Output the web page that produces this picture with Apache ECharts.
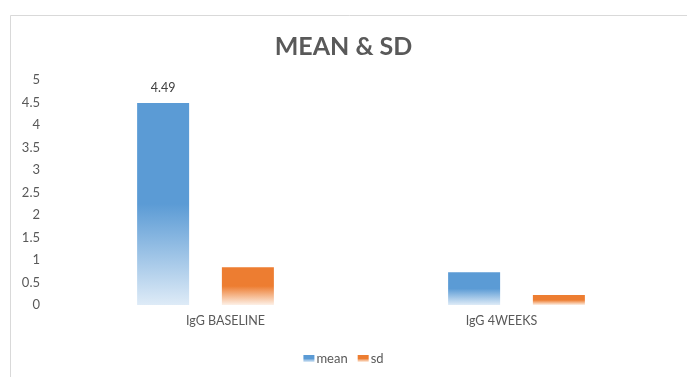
<!DOCTYPE html>
<html style="height: 100%">
<head>
    <meta charset="utf-8">
    <script src="https://cdn.jsdelivr.net/npm/echarts@6/dist/echarts.min.js"></script>
    <title>MEAN & SD</title>
</head>
<body style="height: 100%; margin: 0; background: #fff">
<div id="container" style="width: 687px; height: 377px"></div>

<script type="text/javascript">
    // data
    var categories = ['IgG BASELINE', 'IgG 4WEEKS'];
    var meanValues = [4.49, 0.73];
    var sdValues = [0.84, 0.22];
    var yTicks = [0, 5, 0.5];   // min, max, step

    // excel put the category labels a little off the bar centres
    var labelPad = [[0, 0, 0, 40], [0, 30, 0, 0]];

    var dom = document.getElementById('container');
    var myChart = echarts.init(dom, null, { renderer: 'canvas' });

    function fade(top, bottom) {
        return new echarts.graphic.LinearGradient(0, 0, 0, 1, [
            { offset: 0, color: top },
            { offset: 0.5, color: top },
            { offset: 1, color: bottom }
        ]);
    }

    var option = {
        backgroundColor: '#ffffff',
        textStyle: { fontFamily: 'Lato' },
        graphic: [{
            type: 'rect',
            left: 8, top: 13,
            shape: { width: 720, height: 420 },
            style: { fill: 'none', stroke: '#d9d9d9', lineWidth: 1 },
            silent: true
        }],
        title: {
            text: 'MEAN & SD',
            left: 'center',
            top: 29,
            textStyle: { fontSize: 25, fontWeight: 'bold', color: '#595959', fontFamily: 'Lato' }
        },
        legend: {
            data: ['mean', 'sd'],
            bottom: 7,
            left: 'center',
            itemWidth: 11,
            itemHeight: 7,
            itemGap: 10,
            icon: 'rect',
            textStyle: { fontSize: 13, color: '#595959', padding: [0, 0, 0, -3] }
        },
        grid: {
            left: 50,
            right: 15,
            top: 80,
            bottom: 72
        },
        xAxis: {
            type: 'category',
            data: categories.map(function (c, i) {
                return { value: c, textStyle: { padding: labelPad[i] } };
            }),
            axisLine: { show: false },
            axisTick: { show: false },
            axisLabel: { color: '#595959', fontSize: 12.5, margin: 9 }
        },
        yAxis: {
            type: 'value',
            min: yTicks[0],
            max: yTicks[1],
            interval: yTicks[2],
            splitLine: { show: false },
            axisLine: { show: false },
            axisTick: { show: false },
            axisLabel: { color: '#595959', fontSize: 13, margin: 10 }
        },
        series: [
            {
                name: 'mean',
                type: 'bar',
                barWidth: 52,
                barGap: '63%',
                data: meanValues.map(function (v, i) {
                    return i === 0
                        ? { value: v, label: { show: true } }
                        : v;
                }),
                itemStyle: { color: fade('#5b9bd5', '#deebf7') },
                label: {
                    show: false,
                    position: 'top',
                    distance: 8,
                    color: '#404040',
                    fontSize: 12.5
                }
            },
            {
                name: 'sd',
                type: 'bar',
                barWidth: 52,
                data: sdValues,
                itemStyle: { color: fade('#ed7d31', '#fdf0e6') }
            }
        ]
    };

    myChart.setOption(option);
    window.addEventListener('resize', myChart.resize);
</script>
</body>
</html>
